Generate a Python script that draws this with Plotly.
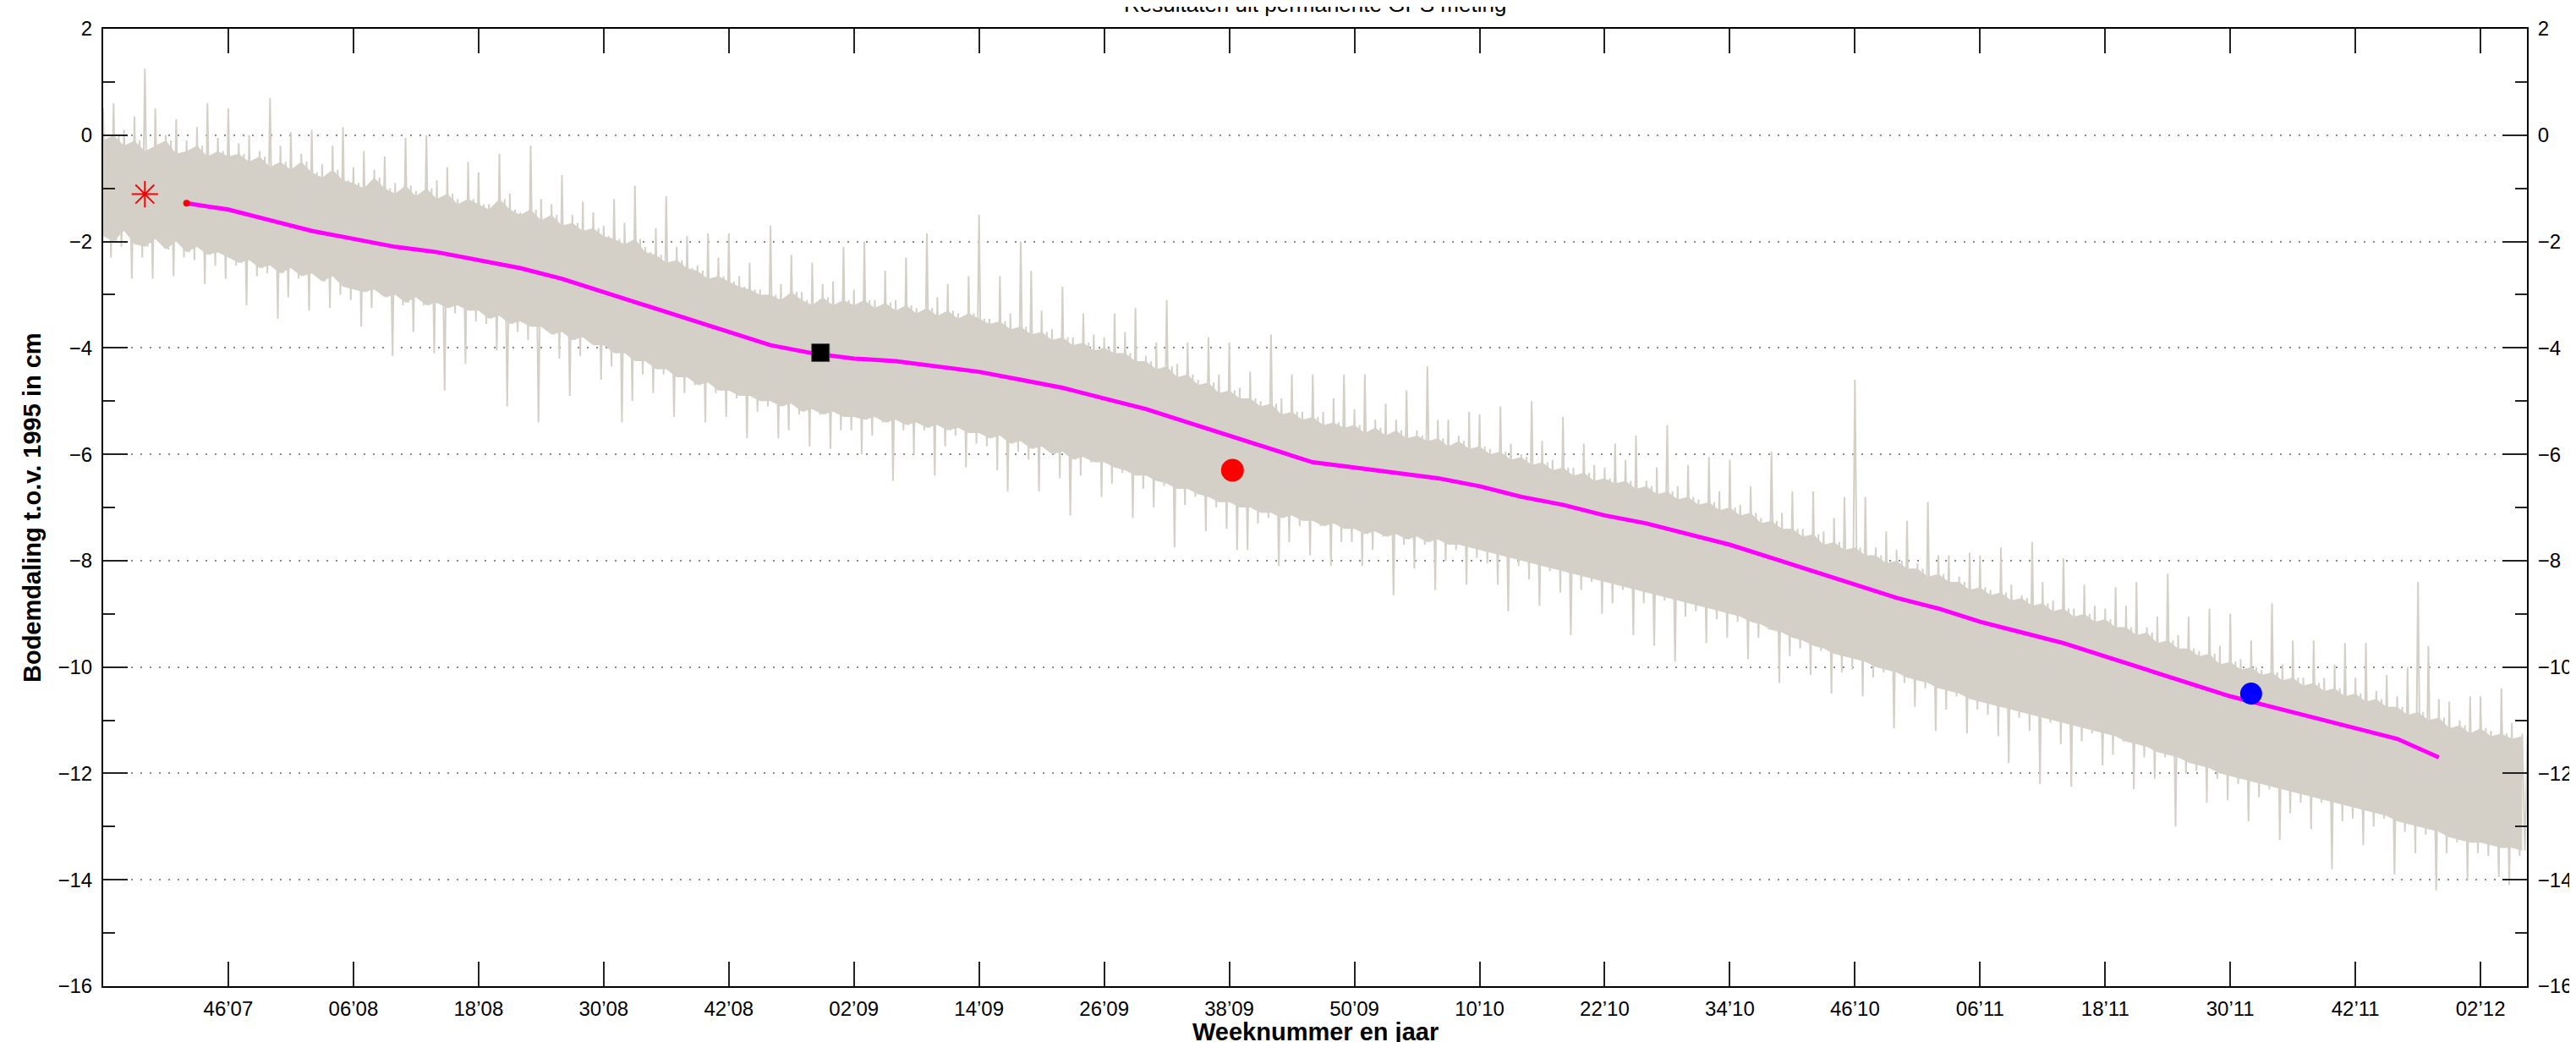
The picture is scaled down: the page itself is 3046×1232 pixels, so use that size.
import plotly.graph_objects as go

# ---------------- data ----------------
tick_weeks = [0, 12, 24, 36, 48, 60, 72, 84, 96, 108, 120, 132, 144, 156, 168, 180, 192, 204, 216]
tick_labels = ["46\u201907", "06\u201908", "18\u201908", "30\u201908", "42\u201908", "02\u201909", "14\u201909",
               "26\u201909", "38\u201909", "50\u201909", "10\u201910", "22\u201910", "34\u201910", "46\u201910",
               "06\u201911", "18\u201911", "30\u201911", "42\u201911", "02\u201912"]

# permanent GPS measurement, per week (weeks relative to 46'07, first week = -12)
grey_week0 = -12
# weekly highest spike
grey_hi = [
    0.5, 0.6, 0.1, 0.35, 1.25, 0.5, 0.0, 0.3, -0.1, 0.15, 0.6, -0.05,
    0.5, -0.15, 0.0, -0.3, 0.7, -0.2, 0.05, -0.35, 0.1, -0.55, -0.2, 0.15,
    -0.6, -0.3, -0.65, -0.4, -0.9, -0.05, -1.05, 0.0, -0.85, -0.6, -1.2, -0.5,
    -0.7, -1.3, -0.35, -1.1, -1.45, -0.2, -1.2, -1.3, -0.75, -1.5, -1.25, -1.45,
    -1.7, -1.2, -1.65, -0.95, -2.1, -1.75, -1.15, -2.1, -1.9, -2.45, -1.85, -2.3,
    -1.85, -2.65, -2.4, -2.9, -1.7, -2.8, -2.25, -2.95, -2.4, -2.8, -2.75, -2.1,
    -2.9, -2.0, -3.1, -2.55, -3.1, -2.3, -3.25, -1.85, -3.05, -2.8, -3.35, -2.65,
    -1.5, -3.45, -2.65, -3.35, -2.0, -2.55, -3.3, -3.65, -2.85, -3.8, -3.35, -3.75,
    -3.8, -3.35, -3.7, -3.25, -4.15, -3.9, -3.1, -4.3, -3.9, -4.6, -3.8, -4.5,
    -3.9, -4.75, -4.45, -5.0, -3.75, -4.95, -4.5, -5.2, -4.5, -5.2, -4.95, -4.5,
    -5.15, -4.5, -5.35, -5.05, -5.35, -4.8, -5.55, -4.35, -5.35, -5.35, -5.65, -5.2,
    -5.25, -5.9, -5.1, -5.8, -6.0, -5.0, -5.75, -6.1, -5.3, -6.25, -5.8, -6.2,
    -6.25, -5.8, -6.1, -5.65, -6.5, -6.25, -5.45, -6.6, -6.2, -6.85, -6.05, -6.7,
    -6.1, -6.95, -6.6, -7.2, -5.95, -7.1, -6.7, -7.4, -6.7, -7.45, -7.2, -6.8,
    -4.6, -6.8, -7.75, -7.45, -7.8, -7.25, -8.05, -6.9, -7.9, -7.9, -8.3, -7.85,
    -7.9, -8.55, -7.75, -8.45, -8.65, -7.65, -8.4, -8.75, -7.95, -8.9, -8.45, -8.85,
    -8.9, -8.5, -8.85, -8.4, -9.25, -9.05, -8.25, -9.4, -9.05, -9.7, -8.9, -9.6,
    -9.0, -9.85, -9.5, -10.05, -8.8, -9.95, -9.5, -10.2, -9.5, -10.2, -9.95, -9.55,
    -10.2, -9.55, -10.45, -10.15, -10.55, -10.0, -8.4, -9.6, -10.6, -10.65, -11.0, -10.55,
    -10.55, -11.2, -10.4, -11.05, -11.25,
]
# weekly upper edge of the dense part
core_hi = [
    -0.1, 0.0, -0.2, -0.1, -0.3, -0.2, -0.1, -0.35, -0.3, -0.2, -0.4, -0.3,
    -0.4, -0.35, -0.5, -0.4, -0.6, -0.5, -0.65, -0.5, -0.7, -0.8, -0.65, -0.85,
    -0.9, -1.0, -0.8, -1.0, -1.1, -0.95, -1.15, -1.0, -1.2, -1.1, -1.3, -1.2,
    -1.3, -1.4, -1.2, -1.4, -1.5, -1.4, -1.6, -1.5, -1.7, -1.65, -1.8, -1.75,
    -1.9, -1.95, -2.05, -1.95, -2.2, -2.25, -2.4, -2.35, -2.5, -2.55, -2.7, -2.65,
    -2.75, -2.85, -2.9, -3.0, -3.0, -3.1, -2.95, -3.1, -3.2, -3.05, -3.2, -3.1,
    -3.2, -3.1, -3.25, -3.15, -3.3, -3.2, -3.35, -3.25, -3.4, -3.3, -3.45, -3.35,
    -3.45, -3.55, -3.5, -3.65, -3.6, -3.75, -3.7, -3.85, -3.8, -3.95, -3.9, -4.05,
    -4.0, -4.1, -4.1, -4.25, -4.25, -4.4, -4.35, -4.55, -4.5, -4.7, -4.65, -4.85,
    -4.8, -4.95, -4.95, -5.1, -5.05, -5.25, -5.2, -5.35, -5.3, -5.45, -5.4, -5.5,
    -5.45, -5.6, -5.5, -5.65, -5.55, -5.7, -5.65, -5.75, -5.7, -5.85, -5.75, -5.9,
    -5.85, -6.0, -5.95, -6.1, -6.05, -6.2, -6.15, -6.3, -6.25, -6.4, -6.35, -6.5,
    -6.45, -6.55, -6.5, -6.65, -6.6, -6.75, -6.7, -6.85, -6.8, -6.95, -6.9, -7.05,
    -7.0, -7.15, -7.1, -7.3, -7.25, -7.4, -7.4, -7.55, -7.5, -7.7, -7.65, -7.8,
    -7.75, -7.9, -7.9, -8.05, -8.0, -8.15, -8.15, -8.3, -8.25, -8.4, -8.4, -8.55,
    -8.5, -8.65, -8.6, -8.75, -8.7, -8.85, -8.8, -8.95, -8.9, -9.05, -9.0, -9.15,
    -9.1, -9.25, -9.25, -9.4, -9.35, -9.55, -9.5, -9.65, -9.65, -9.8, -9.75, -9.95,
    -9.9, -10.05, -10.0, -10.15, -10.1, -10.25, -10.2, -10.35, -10.3, -10.45, -10.4, -10.55,
    -10.5, -10.65, -10.6, -10.75, -10.75, -10.9, -10.85, -11.0, -10.95, -11.15, -11.1, -11.25,
    -11.15, -11.3, -11.25, -11.35, -11.3,
]
# weekly lower edge of the dense part
core_lo = [
    -1.9, -2.0, -1.8, -2.05, -2.1, -1.95, -2.15, -2.0, -2.2, -2.1, -2.25, -2.2,
    -2.3, -2.4, -2.35, -2.5, -2.45, -2.6, -2.5, -2.65, -2.6, -2.75, -2.65, -2.85,
    -2.9, -2.95, -2.9, -3.05, -3.0, -3.15, -3.05, -3.2, -3.15, -3.25, -3.2, -3.3,
    -3.3, -3.45, -3.4, -3.55, -3.5, -3.6, -3.6, -3.75, -3.7, -3.85, -3.8, -3.95,
    -3.95, -4.1, -4.1, -4.25, -4.25, -4.4, -4.4, -4.55, -4.55, -4.7, -4.65, -4.8,
    -4.8, -4.9, -4.9, -5.0, -5.0, -5.1, -5.05, -5.2, -5.15, -5.25, -5.2, -5.3,
    -5.3, -5.35, -5.3, -5.4, -5.35, -5.45, -5.4, -5.5, -5.45, -5.55, -5.5, -5.6,
    -5.6, -5.7, -5.65, -5.8, -5.75, -5.9, -5.85, -6.0, -5.95, -6.1, -6.05, -6.15,
    -6.15, -6.25, -6.3, -6.4, -6.4, -6.5, -6.55, -6.65, -6.65, -6.75, -6.8, -6.9,
    -6.9, -7.0, -7.0, -7.1, -7.1, -7.2, -7.15, -7.25, -7.25, -7.35, -7.3, -7.4,
    -7.4, -7.5, -7.45, -7.55, -7.5, -7.6, -7.55, -7.65, -7.6, -7.7, -7.7, -7.75,
    -7.8, -7.85, -7.9, -7.95, -8.0, -8.05, -8.1, -8.15, -8.2, -8.25, -8.3, -8.35,
    -8.4, -8.45, -8.5, -8.55, -8.6, -8.65, -8.7, -8.75, -8.8, -8.85, -8.9, -8.95,
    -9.0, -9.05, -9.15, -9.2, -9.3, -9.35, -9.45, -9.5, -9.6, -9.65, -9.75, -9.8,
    -9.85, -9.9, -10.0, -10.05, -10.1, -10.2, -10.25, -10.3, -10.4, -10.45, -10.5, -10.6,
    -10.65, -10.7, -10.75, -10.8, -10.85, -10.9, -10.95, -11.0, -11.05, -11.1, -11.15, -11.2,
    -11.25, -11.3, -11.4, -11.45, -11.5, -11.6, -11.65, -11.7, -11.8, -11.85, -11.9, -12.0,
    -12.05, -12.1, -12.15, -12.2, -12.25, -12.3, -12.35, -12.4, -12.45, -12.5, -12.55, -12.6,
    -12.65, -12.7, -12.75, -12.8, -12.9, -12.95, -13.0, -13.05, -13.1, -13.2, -13.25, -13.3,
    -13.3, -13.35, -13.4, -13.4, -13.45,
]
# weekly lowest spike
grey_lo = [
    -2.3, -2.1, -2.7, -2.3, -2.7, -2.05, -2.65, -2.3, -2.35, -2.8, -2.45, -2.7,
    -2.45, -3.2, -2.65, -2.6, -3.45, -3.05, -2.7, -3.3, -2.7, -3.25, -3.0, -3.1,
    -3.6, -3.25, -3.0, -4.15, -3.2, -3.7, -3.2, -4.1, -4.8, -3.35, -4.3, -3.5,
    -3.55, -4.05, -5.1, -3.7, -3.85, -5.4, -3.7, -4.2, -4.9, -4.15, -3.9, -4.6,
    -4.35, -5.4, -5.0, -4.5, -4.85, -4.5, -5.3, -4.85, -4.7, -5.4, -4.85, -5.3,
    -4.95, -5.7, -5.2, -5.1, -5.7, -5.55, -5.25, -5.85, -5.25, -5.9, -5.55, -5.55,
    -6.0, -5.65, -5.4, -6.5, -5.55, -6.0, -5.55, -6.4, -5.85, -5.65, -6.25, -5.8,
    -5.85, -6.3, -6.7, -5.95, -6.1, -6.7, -5.95, -6.45, -7.15, -6.4, -6.15, -6.8,
    -6.55, -6.35, -7.2, -6.65, -7.0, -6.6, -7.75, -6.95, -6.8, -7.45, -7.0, -7.4,
    -7.8, -7.8, -7.3, -7.2, -8.1, -7.65, -7.35, -7.9, -7.35, -8.1, -7.65, -7.65,
    -8.1, -7.8, -7.55, -8.65, -7.7, -8.15, -7.7, -8.55, -8.0, -7.8, -8.45, -7.95,
    -8.05, -8.45, -8.95, -8.1, -8.35, -8.85, -8.2, -8.6, -9.4, -8.55, -8.4, -9.0,
    -8.8, -8.55, -9.4, -8.8, -9.6, -8.75, -9.9, -9.05, -8.95, -9.55, -9.1, -9.45,
    -9.15, -9.85, -9.45, -9.3, -10.3, -9.8, -9.65, -10.15, -9.7, -10.5, -10.1, -10.05,
    -10.55, -10.2, -10.1, -11.15, -10.3, -10.75, -10.4, -11.2, -10.8, -10.55, -11.25, -10.8,
    -10.9, -11.3, -11.8, -10.95, -11.2, -12.2, -11.05, -11.45, -12.25, -11.4, -11.25, -11.85,
    -11.65, -11.4, -12.3, -11.7, -12.1, -11.7, -13.0, -12.0, -11.95, -12.55, -12.1, -12.5,
    -12.2, -12.9, -12.45, -12.3, -13.25, -12.75, -12.55, -13.05, -12.55, -13.8, -12.9, -12.85,
    -13.35, -13.0, -12.85, -13.9, -13.1, -13.5, -13.15, -14.2, -13.5, -13.3, -14.0, -13.5,
    -13.55, -13.95, -14.1, -13.55, -13.8,
]

# smoothed trend (magenta)
trend_weeks = [-4, 0, 4, 8, 12, 16, 20, 24, 28, 32, 36, 40, 44, 48, 52, 56, 60, 64, 68, 72, 76, 80,
               84, 88, 92, 96, 100, 104, 108, 112, 116, 120, 124, 128, 132, 136, 140, 144, 148, 152,
               156, 160, 164, 168, 172, 176, 180, 184, 188, 192, 196, 200, 204, 208, 212]
trend_vals = [-1.28, -1.4, -1.6, -1.8, -1.95, -2.1, -2.2, -2.35, -2.5, -2.7, -2.95, -3.2, -3.45, -3.7,
              -3.95, -4.1, -4.2, -4.25, -4.35, -4.45, -4.6, -4.75, -4.95, -5.15, -5.4, -5.65, -5.9,
              -6.15, -6.25, -6.35, -6.45, -6.6, -6.8, -6.95, -7.15, -7.3, -7.5, -7.7, -7.95, -8.2,
              -8.45, -8.7, -8.9, -9.15, -9.35, -9.55, -9.8, -10.05, -10.3, -10.55, -10.75, -10.95,
              -11.15, -11.35, -11.7]

# single measurements
star_week, star_val = [-8.0], [-1.11]
square_week, square_val = [56.8], [-4.09]
red_week, red_val = [96.3], [-6.30]
blue_week, blue_val = [194.0], [-10.50]

y_ticks = [-16, -14, -12, -10, -8, -6, -4, -2, 0, 2]
y_minor = [-15, -13, -11, -9, -7, -5, -3, -1, 1]
x_range = [-12, 220.45]
y_range = [-16, 2]

title_text = "Resultaten uit permanente GPS meting"
x_title = "Weeknummer en jaar"
y_title = "Bodemdaling t.o.v. 1995 in cm"

# ---------------- figure ----------------
GREY = "#d4d0c8"
FONT = "Liberation Sans, Arial, Helvetica, sans-serif"

weeks = [grey_week0 + i for i in range(len(grey_hi))]

fig = go.Figure()

# dense part of the measurement band
fig.add_trace(go.Scatter(
    x=weeks + weeks[::-1], y=core_hi + core_lo[::-1],
    fill="toself", fillcolor=GREY, line=dict(width=0), mode="lines",
    hoverinfo="skip", showlegend=False))

# the measurement itself, through each week's extremes
zx, zy = [], []
for w, h, ch, cl, l in zip(weeks, grey_hi, core_hi, core_lo, grey_lo):
    zx += [w, w + 0.25, w + 0.5, w + 0.75]
    zy += [h, cl, ch, l]
fig.add_trace(go.Scatter(x=zx, y=zy, mode="lines", line=dict(color=GREY, width=2),
                         hoverinfo="skip", showlegend=False))

fig.add_trace(go.Scatter(x=trend_weeks, y=trend_vals, mode="lines",
                         line=dict(color="#ff00ff", width=5), showlegend=False))
fig.add_trace(go.Scatter(x=trend_weeks[:1], y=trend_vals[:1], mode="markers",
                         marker=dict(color="#ff0000", size=8), showlegend=False))

fig.add_trace(go.Scatter(x=star_week, y=star_val, mode="markers",
                         marker=dict(symbol="asterisk-open", size=26, color="#ff0000",
                                     line=dict(color="#ff0000", width=2)),
                         showlegend=False))
fig.add_trace(go.Scatter(x=square_week, y=square_val, mode="markers",
                         marker=dict(symbol="square", size=21, color="#000000",
                                     line=dict(color="#555555", width=1)),
                         showlegend=False))
fig.add_trace(go.Scatter(x=red_week, y=red_val, mode="markers",
                         marker=dict(symbol="circle", size=27, color="#ff0000", line=dict(width=0)),
                         showlegend=False))
fig.add_trace(go.Scatter(x=blue_week, y=blue_val, mode="markers",
                         marker=dict(symbol="circle", size=26, color="#0000ff", line=dict(width=0)),
                         showlegend=False))
# invisible trace to carry the right-hand axis
fig.add_trace(go.Scatter(x=x_range, y=y_range, yaxis="y2", mode="markers",
                         marker=dict(opacity=0), hoverinfo="skip", showlegend=False))

tickfont = dict(family=FONT, size=24, color="#000000")
yaxis_common = dict(
    range=y_range, tickmode="array", tickvals=y_ticks, ticks="inside", ticklen=29,
    tickwidth=1.5, tickcolor="#222222", tickfont=tickfont, showline=True, linecolor="#000000",
    linewidth=2, zeroline=False, ticklabelstandoff=6,
    minor=dict(tickmode="array", tickvals=y_minor, ticks="inside", ticklen=14, tickwidth=1.5,
               tickcolor="#222222", showgrid=False),
)

fig.update_layout(
    width=3046, height=1232,
    margin=dict(l=114, r=57, t=23, b=74),
    paper_bgcolor="white", plot_bgcolor="white",
    font=dict(family=FONT, color="#000000"),
    xaxis=dict(range=x_range, tickmode="array", tickvals=tick_weeks, ticktext=tick_labels,
               ticks="inside", ticklen=29, tickwidth=1.5, tickcolor="#222222", tickfont=tickfont,
               showline=True, linecolor="#000000", linewidth=2, mirror="ticks", showgrid=False,
               zeroline=False, ticklabelstandoff=4),
    yaxis=dict(**yaxis_common, side="left", mirror=True, showgrid=True, gridcolor="#8a8a8a",
               gridwidth=1.5, griddash="2px,9px"),
    yaxis2=dict(**yaxis_common, side="right", overlaying="y", anchor="x", showgrid=False),
    annotations=[
        dict(text=title_text, xref="paper", yref="paper", x=0.5, y=1, xanchor="center",
             yanchor="bottom", yshift=12, showarrow=False, font=dict(family=FONT, size=26)),
        dict(text="<b>" + x_title + "</b>", xref="paper", yref="paper", x=0.5, y=0,
             xanchor="center", yanchor="middle", yshift=-54, showarrow=False,
             font=dict(family=FONT, size=29)),
        dict(text="<b>" + y_title + "</b>", xref="paper", yref="paper", x=0, y=0.5,
             xanchor="center", yanchor="middle", xshift=-84, textangle=-90, showarrow=False,
             font=dict(family=FONT, size=29)),
    ],
)

fig.write_html("out.html")
